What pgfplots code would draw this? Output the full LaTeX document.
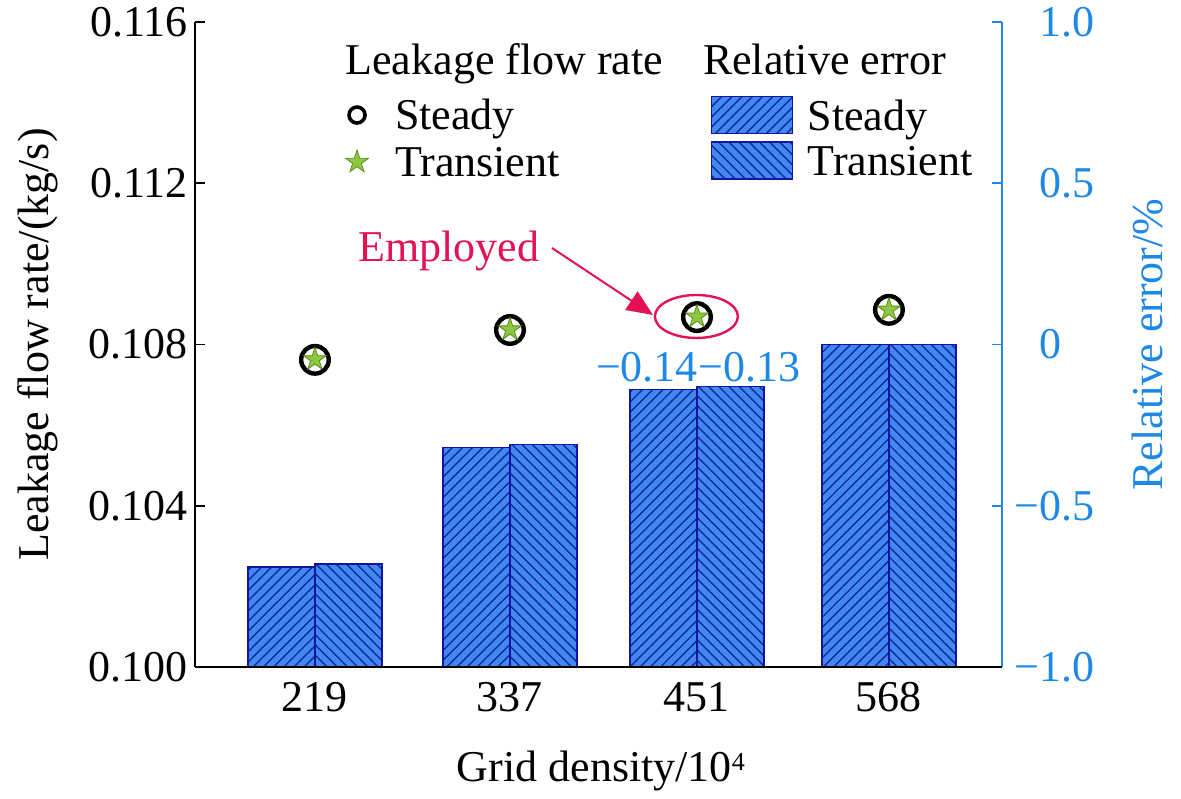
\documentclass[border=0pt]{standalone}
\usepackage{fontspec}
\setmainfont{Liberation Serif}
\usepackage{pgfplots}
\pgfplotsset{compat=1.18}
\usepackage{pgfplotstable}
\usetikzlibrary{patterns.meta,arrows.meta}
\newcommand\bigfont{\fontsize{22}{26.4}\selectfont}
\definecolor{barfill}{RGB}{66,135,245}
\definecolor{baredge}{RGB}{20,20,160}
\definecolor{hatch}{RGB}{15,45,140}
\definecolor{rblue}{RGB}{30,136,229}
\definecolor{stargreen}{RGB}{141,198,63}
\definecolor{stardark}{RGB}{90,140,30}
\definecolor{crim}{RGB}{226,18,84}

\pgfdeclareplotmark{fstar}{%
 \pgfpathmoveto{\pgfpointpolar{90}{\pgfplotmarksize}}%
 \pgfpathlineto{\pgfpointpolar{126}{0.382\pgfplotmarksize}}%
 \pgfpathlineto{\pgfpointpolar{162}{\pgfplotmarksize}}%
 \pgfpathlineto{\pgfpointpolar{198}{0.382\pgfplotmarksize}}%
 \pgfpathlineto{\pgfpointpolar{234}{\pgfplotmarksize}}%
 \pgfpathlineto{\pgfpointpolar{270}{0.382\pgfplotmarksize}}%
 \pgfpathlineto{\pgfpointpolar{306}{\pgfplotmarksize}}%
 \pgfpathlineto{\pgfpointpolar{342}{0.382\pgfplotmarksize}}%
 \pgfpathlineto{\pgfpointpolar{18}{\pgfplotmarksize}}%
 \pgfpathlineto{\pgfpointpolar{54}{0.382\pgfplotmarksize}}%
 \pgfpathclose
 \pgfusepathqfillstroke
}
% invisible box that only sets the size of a legend image
\newcommand\legbox[4]{\pgfpathrectangle{\pgfpoint{#1}{#2}}{\pgfpoint{#3}{#4}}\pgfusepath{discard}}

\pgfplotstableread{
x steady transient
0 -0.69 -0.68
1.021 -0.32 -0.31
2.0 -0.14 -0.13
3.005 0.00 0.00
}\errtable
\pgfplotstableread{
x steady transient
0 0.10762 0.10763
1.021 0.10836 0.10837
2.0 0.10868 0.10869
3.005 0.10886 0.10886
}\flowtable

\tikzset{
 hatchNE/.style={postaction={pattern={Lines[angle=45,distance=3.6pt,line width=0.7pt]}, pattern color=hatch}},
 hatchNW/.style={postaction={pattern={Lines[angle=-45,distance=3.6pt,line width=0.7pt]}, pattern color=hatch}},
}

\begin{document}
\begin{tikzpicture}[font=\bigfont]
\begin{axis}[
 scale only axis, width=403.5pt, height=322.5pt,
 xmin=-0.628, xmax=3.597, ymin=0, ymax=2,
 axis x line=none, axis y line*=right,
 y axis line style={rblue, line width=0.8pt},
 ytick={0,0.5,1,1.5,2},
 yticklabels={\llap{−}1.0,\llap{−}0.5,0,0.5,1.0},
 yticklabel style={rblue, anchor=west, xshift=15pt},
 ytick style={rblue, line width=0.8pt},
 tick align=inside, major tick length=5pt,
 ylabel={Relative error/\%},
 ylabel style={rblue, at={(axis description cs:1.1797,0.5)}, anchor=center},
 legend cell align=left,
 legend style={at={(rel axis cs:0.6394,0.8911)}, anchor=north west, draw=none, fill=none,
   inner sep=0pt, outer sep=0pt, row sep=0pt, column sep=0pt,
   nodes={inner sep=0pt, text height=19pt, text depth=3.75pt}},
]
\addplot[ybar, bar width=0.351, bar shift=0pt, fill=barfill, draw=baredge, line width=0.7pt, hatchNE,
  legend image code/.code={\legbox{0pt}{-9.5pt}{48pt}{19pt}%
    \draw[fill=barfill, draw=baredge, line width=0.7pt] (0pt,-9.25pt) rectangle (40.5pt,9.25pt);}]
  table[x expr=\thisrow{x}-0.1755, y expr=\thisrow{steady}+1]{\errtable};
\addlegendentry{Steady}
\addplot[ybar, bar width=0.351, bar shift=0pt, fill=barfill, draw=baredge, line width=0.7pt, hatchNW,
  legend image code/.code={\legbox{0pt}{-9.5pt}{48pt}{19pt}%
    \draw[fill=barfill, draw=baredge, line width=0.7pt] (0pt,-9.25pt) rectangle (40.5pt,9.25pt);}]
  table[x expr=\thisrow{x}+0.1755, y expr=\thisrow{transient}+1]{\errtable};
\addlegendentry{Transient}
\node[rblue, anchor=base, inner sep=0pt] at (axis cs:1.738,0.884) {−0.14};
\node[rblue, anchor=base, inner sep=0pt] at (axis cs:2.277,0.884) {−0.13};
\end{axis}

\begin{axis}[name=main,
 scale only axis, width=403.5pt, height=322.5pt,
 xmin=-0.628, xmax=3.597, ymin=0.1, ymax=0.116,
 axis x line*=bottom, axis y line*=left,
 axis line style={black, line width=0.8pt},
 xtick={0,1.021,2,3.005}, xticklabels={219,337,451,568},
 xtick style={draw=none}, xticklabel style={yshift=-4pt},
 ytick={0.100,0.104,0.108,0.112,0.116},
 yticklabels={0.100,0.104,0.108,0.112,0.116},
 ytick style={black, line width=0.8pt},
 tick align=inside, major tick length=5pt,
 xlabel={Grid density/10\raisebox{0.55ex}{\fontsize{13}{13}\selectfont 4}},
 xlabel style={at={(axis description cs:0.503,-0.178)}, anchor=base},
 ylabel={Leakage flow rate/(kg/s)},
 ylabel style={at={(axis description cs:-0.1945,0.5)}, anchor=center},
 clip=false,
 legend cell align=left,
 legend style={at={(rel axis cs:0.176,0.8922)}, anchor=north west, draw=none, fill=none,
   inner sep=0pt, outer sep=0pt, row sep=0pt, column sep=0pt,
   nodes={inner sep=0pt, text height=19pt, text depth=4.5pt}},
]
\addplot[only marks, mark=o, mark size=6.9pt, mark options={black, line width=2.2pt},
  legend image code/.code={\legbox{-10pt}{-5pt}{29pt}{10pt}%
    \draw[black, line width=1.8pt] (0pt,0pt) circle (4pt);}]
  table[x=x, y=steady]{\flowtable};
\addlegendentry{Steady}
\addplot[only marks, mark=fstar, mark size=6pt, mark options={fill=stargreen, draw=stardark, line width=0.4pt},
  legend image code/.code={\legbox{-10pt}{-5pt}{29pt}{10pt}%
    \filldraw[fill=stargreen, draw=stardark, line width=0.4pt] (90:6pt) -- (126:2.3pt) -- (162:6pt) -- (198:2.3pt) -- (234:6pt) -- (270:2.3pt) -- (306:6pt) -- (342:2.3pt) -- (18:6pt) -- (54:2.3pt) -- cycle;}]
  table[x=x, y=transient]{\flowtable};
\addlegendentry{Transient}
\node[crim, anchor=base] at (axis cs:0.702,0.110047) {Employed};
\draw[crim, line width=1pt, -{Triangle[length=13pt,width=11pt]}] (axis cs:1.241,0.110394) -- (axis cs:1.770,0.108732);
\draw[crim, line width=1.2pt] (axis cs:1.997,0.108695) ellipse [x radius=20.75pt, y radius=10.75pt];
\node[anchor=base west, inner sep=0pt] at (rel axis cs:0.186,0.919) {Leakage flow rate};
\node[anchor=base west, inner sep=0pt] at (rel axis cs:0.629,0.919) {Relative error};
\end{axis}
\path (main.south west) ++(-97.5pt,-65.5pt) rectangle ++(590.5pt,399pt);
\end{tikzpicture}
\end{document}
